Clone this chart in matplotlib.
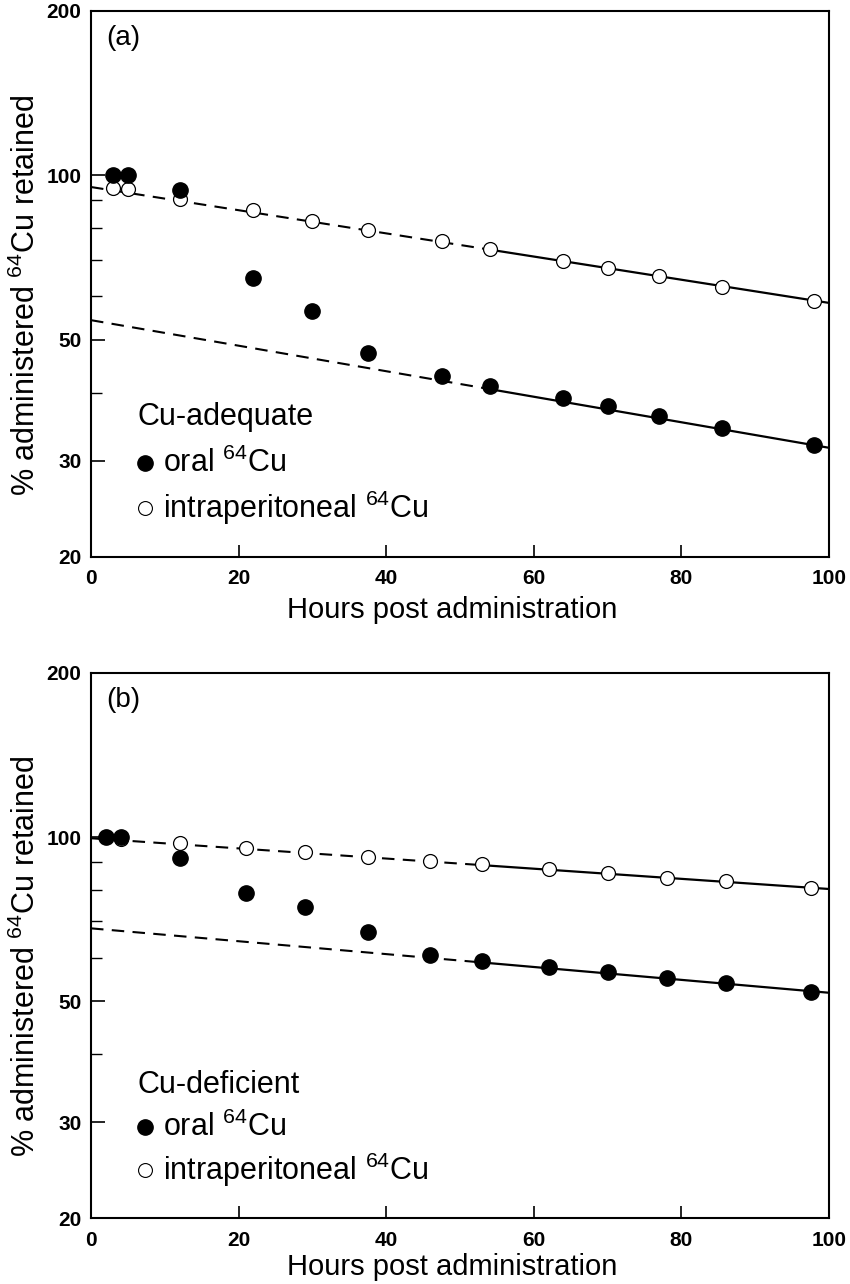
import numpy as np
import matplotlib
matplotlib.use("Agg")
import matplotlib.pyplot as plt
from matplotlib.ticker import FixedLocator, FixedFormatter, NullFormatter

plt.rcParams["font.family"] = ["Liberation Sans", "DejaVu Sans"]
plt.rcParams["mathtext.fontset"] = "custom"
plt.rcParams["mathtext.rm"] = "Liberation Sans"
plt.rcParams["mathtext.default"] = "regular"

# panel (a): Cu-adequate
hours_a = [3, 5, 12, 22, 30, 37.5, 47.5, 54, 64, 70, 77, 85.5, 98]
oral_a = [100, 100, 94, 64.9, 56.4, 47.3, 42.9, 41.1, 39.1, 37.8, 36.2, 34.5, 32.1]
ip_a = [94.8, 94.4, 90.5, 86.4, 82.5, 79.4, 75.8, 73.3, 69.7, 67.6, 65.4, 62.4, 58.9]
# fitted lines: value at t=0 and at t=100, hour where the fit becomes solid
fit_oral_a = (54.3, 31.7)
fit_ip_a = (95.2, 58.4)
split_a = 54

# panel (b): Cu-deficient
hours_b = [2, 4, 12, 21, 29, 37.5, 46, 53, 62, 70, 78, 86, 97.5]
oral_b = [100, 100, 91.5, 79.0, 74.4, 66.9, 60.8, 59.2, 57.8, 56.6, 55.1, 54.0, 52.0]
ip_b = [100, 99.2, 97.5, 95.5, 93.9, 91.9, 90.4, 89.3, 87.4, 85.9, 84.1, 83.0, 80.6]
fit_oral_b = (68.0, 51.8)
fit_ip_b = (99.5, 80.3)
split_b = 53

y_major = [20, 30, 50, 100, 200]
y_minor = [40, 60, 70, 80, 90]
x_labels = [0, 20, 40, 60, 80, 100]


def fit_value(fit, t):
    v0, v100 = fit
    return v0 * (v100 / v0) ** (t / 100.0)


def draw_fit(ax, fit, split):
    t_dash = [0, split]
    t_solid = [split, 100]
    ax.plot(t_dash, [fit_value(fit, t) for t in t_dash], color="black",
            lw=1.5, dashes=(6, 4), zorder=2)
    ax.plot(t_solid, [fit_value(fit, t) for t in t_solid], color="black",
            lw=1.6, zorder=2)


def panel(ax, hours, oral, ip, fit_oral, fit_ip, split, tag, group,
          legend_y, xlabel_y):
    draw_fit(ax, fit_ip, split)
    draw_fit(ax, fit_oral, split)
    ax.plot(hours, ip, "o", ms=10, mfc="white", mec="black", mew=0.9, zorder=3)
    ax.plot(hours, oral, "o", ms=11, mfc="black", mec="black", zorder=4)

    ax.set_yscale("log")
    ax.set_ylim(20, 200)
    ax.set_xlim(0, 100)
    ax.yaxis.set_major_locator(FixedLocator(y_major))
    ax.yaxis.set_major_formatter(FixedFormatter([str(v) for v in y_major]))
    ax.yaxis.set_minor_locator(FixedLocator(y_minor))
    ax.yaxis.set_minor_formatter(NullFormatter())
    ax.set_xticks(x_labels)
    ax.set_xticklabels([str(v) for v in x_labels])

    ax.tick_params(axis="y", which="major", direction="in", length=10, width=1.2,
                   pad=7, labelsize=15)
    ax.tick_params(axis="y", which="minor", direction="in", length=8, width=1.0)
    ax.tick_params(axis="x", direction="in", length=9, width=1.2, pad=9, labelsize=15)
    for lbl in ax.get_xticklabels() + ax.get_yticklabels():
        lbl.set_fontweight("bold")
    # hide tick marks at the corners
    for tick in ax.xaxis.get_major_ticks():
        if tick.get_loc() in (0, 100):
            tick.tick1line.set_visible(False)
    for tick in ax.yaxis.get_major_ticks():
        if tick.get_loc() in (20, 200):
            tick.tick1line.set_visible(False)

    for s in ax.spines.values():
        s.set_linewidth(1.5)

    ax.set_xlabel("Hours post administration", fontsize=21, va="center")
    ax.xaxis.set_label_coords(0.49, xlabel_y)
    ax.set_ylabel(r"% administered $^{64}$Cu retained", fontsize=22, va="center")
    ax.yaxis.set_label_coords(-0.087, 0.48)

    ax.text(0.020, 0.95, tag, transform=ax.transAxes, fontsize=20,
            ha="left", va="center")

    y0, y1, y2 = legend_y
    ax.text(0.063, y0, group, transform=ax.transAxes, fontsize=22,
            ha="left", va="center")
    ax.plot([0.073], [y1], "o", ms=11, mfc="black", mec="black",
            transform=ax.transAxes, clip_on=False)
    ax.text(0.097, y1, r"oral $^{64}$Cu", transform=ax.transAxes, fontsize=22,
            ha="left", va="center")
    ax.plot([0.073], [y2], "o", ms=10, mfc="white", mec="black", mew=0.8,
            transform=ax.transAxes, clip_on=False)
    ax.text(0.097, y2, r"intraperitoneal $^{64}$Cu", transform=ax.transAxes,
            fontsize=22, ha="left", va="center")


fig = plt.figure(figsize=(8.5, 12.84), dpi=100)
ax_a = fig.add_axes([91 / 850, 1 - 557 / 1284, 738 / 850, 546 / 1284])
ax_b = fig.add_axes([91 / 850, 1 - 1218 / 1284, 738 / 850, 545 / 1284])

panel(ax_a, hours_a, oral_a, ip_a, fit_oral_a, fit_ip_a, split_a,
      "(a)", "Cu-adequate", (0.256, 0.172, 0.09), -0.097)
panel(ax_b, hours_b, oral_b, ip_b, fit_oral_b, fit_ip_b, split_b,
      "(b)", "Cu-deficient", (0.244, 0.167, 0.088), -0.089)

fig.savefig("out.png", dpi=100)
